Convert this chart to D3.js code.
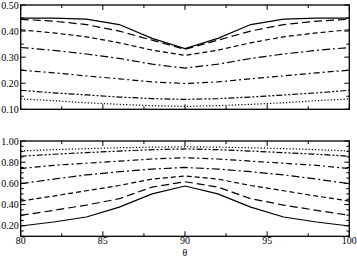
<!DOCTYPE html>
<html><head><meta charset="utf-8">
<script src="https://cdn.jsdelivr.net/npm/d3@7"></script>
<style>body{margin:0;background:#fff}svg{display:block}text{font-family:"Liberation Serif","DejaVu Serif",serif;font-size:10px;fill:#000}</style>
</head><body>
<svg id="c" width="357" height="257"></svg>
<script>
const theta = [80,82,84,86,88,90,92,94,96,98,100];
// top panel series
const top1 = [0.450,0.450,0.446,0.425,0.372,0.333,0.372,0.425,0.446,0.450,0.450];
const top2 = [0.445,0.438,0.425,0.400,0.365,0.330,0.365,0.400,0.425,0.438,0.445];
const top3 = [0.405,0.393,0.378,0.355,0.327,0.307,0.327,0.355,0.378,0.393,0.405];
const top4 = [0.337,0.326,0.312,0.295,0.273,0.258,0.273,0.295,0.312,0.326,0.337];
const top5 = [0.250,0.240,0.228,0.217,0.205,0.199,0.205,0.217,0.228,0.240,0.250];
const top6 = [0.173,0.163,0.155,0.147,0.141,0.138,0.141,0.147,0.155,0.163,0.173];
const top7 = [0.140,0.133,0.125,0.119,0.114,0.111,0.114,0.119,0.125,0.133,0.140];
// bottom panel series
const bot1 = [0.197,0.235,0.282,0.375,0.500,0.575,0.500,0.375,0.282,0.235,0.197];
const bot2 = [0.298,0.345,0.395,0.455,0.565,0.615,0.565,0.455,0.395,0.345,0.298];
const bot3 = [0.433,0.480,0.530,0.580,0.640,0.670,0.640,0.580,0.530,0.480,0.433];
const bot4 = [0.597,0.640,0.680,0.710,0.735,0.750,0.735,0.710,0.680,0.640,0.597];
const bot5 = [0.740,0.770,0.790,0.810,0.830,0.842,0.830,0.810,0.790,0.770,0.740];
const bot6 = [0.856,0.875,0.890,0.905,0.918,0.925,0.918,0.905,0.890,0.875,0.856];
const bot7 = [0.906,0.918,0.928,0.936,0.942,0.946,0.942,0.936,0.928,0.918,0.906];
const xTicks = [80,85,90,95,100];
const topTicks = [0.10,0.20,0.30,0.40,0.50];
const botTicks = [0.20,0.40,0.60,0.80,1.00];
const dashes = [null,"8,4","5,3","8,3,2,3","6,3,2,3","6,2,2,2,2,2","1.2,2"];

const svg = d3.select("#c");
const L = 20.7, R = 349.3;
const x = d3.scaleLinear().domain([80,100]).range([L,R]);

function panel(y0, y1, dom, ticks, minorStep, series, showX){
  const y = d3.scaleLinear().domain(dom).range([y1,y0]);
  const g = svg.append("g");
  const line = d3.line().x((d,i)=>x(theta[i])).y(d=>y(d));
  series.forEach((s,k)=>{
    g.append("path").attr("d",line(s)).attr("fill","none").attr("stroke","#000")
     .attr("stroke-width",1.2).attr("stroke-dasharray",dashes[k]);
  });
  const xMinor = d3.range(80,100.01,2.5);
  xMinor.forEach(v=>{
    const len = (v%5===0)?5:3;
    g.append("line").attr("x1",x(v)).attr("x2",x(v)).attr("y1",y1).attr("y2",y1-len).attr("stroke","#000").attr("stroke-width",1);
    g.append("line").attr("x1",x(v)).attr("x2",x(v)).attr("y1",y0).attr("y2",y0+len).attr("stroke","#000").attr("stroke-width",1);
  });
  const yMinor = d3.range(dom[0], dom[1]+1e-6, minorStep);
  yMinor.forEach(v=>{
    const major = ticks.some(t=>Math.abs(t-v)<1e-6);
    const len = major?5:3;
    g.append("line").attr("x1",L).attr("x2",L+len).attr("y1",y(v)).attr("y2",y(v)).attr("stroke","#000").attr("stroke-width",1);
    g.append("line").attr("x1",R).attr("x2",R-len).attr("y1",y(v)).attr("y2",y(v)).attr("stroke","#000").attr("stroke-width",1);
  });
  ticks.forEach(t=>{
    g.append("text").attr("x",L-2).attr("y",y(t)).attr("dy","0.35em").attr("text-anchor","end").text(t.toFixed(2));
  });
  g.append("rect").attr("x",L).attr("y",y0).attr("width",R-L).attr("height",y1-y0)
   .attr("fill","none").attr("stroke","#000").attr("stroke-width",1.3);
  if(showX){
    xTicks.forEach(t=>{
      g.append("text").attr("x",x(t)).attr("y",y1+8).attr("text-anchor","middle").text(t);
    });
  }
}
panel(5,109.3,[0.10,0.50],topTicks,0.05,[top1,top2,top3,top4,top5,top6,top7],false);
panel(141,236.3,[0.10,1.00],botTicks,0.05,[bot1,bot2,bot3,bot4,bot5,bot6,bot7],true);
svg.append("text").attr("x",x(90)).attr("y",255.5).attr("text-anchor","middle").text("θ");
</script>
</body></html>
